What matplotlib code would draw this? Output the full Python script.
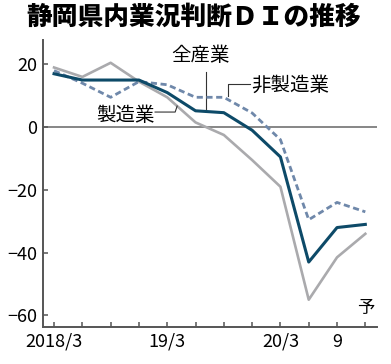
import matplotlib
matplotlib.use("Agg")
import matplotlib.pyplot as plt

plt.rcParams['font.family'] = ['Noto Sans CJK JP', 'DejaVu Sans']

quarters = list(range(12))
tick_labels = ['2018/3', '', '', '', '19/3', '', '', '', '20/3', '', '9', '']
all_ind = [17, 15, 15, 15, 11, 5.2, 4.6, -1, -9.5, -43, -32, -31]
manuf = [19, 16, 20.5, 14.5, 9.5, 1.5, -2.5, -10.5, -19, -55, -41.5, -34]
nonmanuf = [18, 14, 9.5, 14.5, 13.5, 9.5, 9.5, 4.5, -4, -29.5, -24, -27]

navy = '#0d4a68'
gray = '#aaaaad'
dash_c = '#6f88aa'
axc = '#555555'

fig = plt.figure(figsize=(3.91, 3.64), dpi=100)
ax = fig.add_axes([0.110, 0.1016, 0.854, 0.788])

ax.axhline(0, color='#666666', lw=1.1, zorder=1)
ax.plot(quarters, manuf, color=gray, lw=1.9, zorder=2)
ax.plot(quarters, nonmanuf, color=dash_c, lw=2.0, ls=(0, (2.2, 1.3)), zorder=3)
ax.plot(quarters, all_ind, color=navy, lw=2.2, zorder=4)

ax.set_xlim(-0.39, 11.41)
ax.set_ylim(-63.7, 27.7)
ax.set_xticks(quarters)
ax.set_xticklabels(tick_labels)
ax.set_yticks([20, 0, -20, -40, -60])
ax.tick_params(direction='in', length=3.5, width=1.1, color=axc, labelsize=13, pad=4)
for s in ['top', 'right']:
    ax.spines[s].set_visible(False)
for s in ['left', 'bottom']:
    ax.spines[s].set_color(axc)
    ax.spines[s].set_linewidth(1.4)

# labels with leader lines
lc = '#333333'
ax.text(5.19, 22.9, '全産業', fontsize=14, ha='center', va='center')
ax.plot([5.37, 5.37], [17.5, 5.4], color=lc, lw=0.8)
ax.text(6.95, 13.4, '非製造業', fontsize=14, ha='left', va='center')
ax.plot([6.93, 6.15, 6.15], [13.7, 13.7, 9.8], color=lc, lw=0.8)
ax.text(3.55, 3.8, '製造業', fontsize=14, ha='right', va='center')
ax.plot([3.57, 4.28, 4.35], [4.8, 4.8, 6.7], color=lc, lw=0.8)
ax.text(11.0, -57.6, '予', fontsize=12.5, ha='center', va='center')

fig.text(0.495, 0.953, '静岡県内業況判断ＤＩの推移', fontsize=18.5, fontweight='heavy',
         ha='center', va='center')

fig.savefig('out.png', dpi=100)
